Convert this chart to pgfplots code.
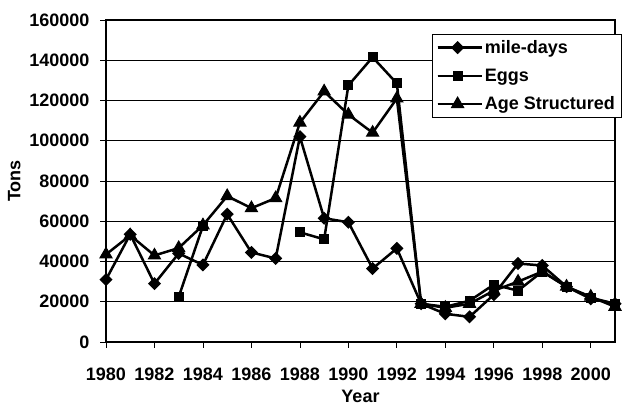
\documentclass[border=0pt]{standalone}
\usepackage{pgfplots}
\pgfplotsset{compat=1.18}
\usepackage{fontspec}
\setmainfont{Liberation Sans}
\begin{document}
\begin{tikzpicture}
\begin{axis}[
  at={(0pt,0pt)}, anchor=south west,
  scale only axis,
  width=509pt, height=322pt,
  xmin=1980, xmax=2001,
  ymin=0, ymax=160000,
  xtick={1980,1982,1984,1986,1988,1990,1992,1994,1996,1998,2000},
  xticklabels={1980,1982,1984,1986,1988,1990,1992,1994,1996,1998,2000},
  ytick={0,20000,40000,60000,80000,100000,120000,140000,160000},
  yticklabels={0,20000,40000,60000,80000,100000,120000,140000,160000},
  tick align=outside,
  xtick pos=bottom, ytick pos=left,
  major tick length=6pt,
  ymajorgrids,
  grid style={black, line width=0.7pt},
  axis line style={line width=1.3pt},
  tick style={black, line width=0.8pt},
  scaled y ticks=false,
  ticklabel style={font=\fontsize{18}{20}\selectfont\bfseries},
  yticklabel style={xshift=-7pt},
  xticklabel style={yshift=-16pt},
  xlabel={Year}, ylabel={Tons},
  label style={font=\fontsize{18}{20}\selectfont\bfseries},
  xlabel style={yshift=-3pt},
  ylabel style={yshift=2pt},
  legend style={at={(rel axis cs:0.6405,0.9565)}, anchor=north west, draw=black, line width=0.7pt,
    font=\fontsize{18}{20}\selectfont\bfseries, row sep=10pt, inner xsep=4pt, inner ysep=4pt,
    nodes={inner xsep=2pt}},
  legend cell align=left,
  legend image code/.code={\path (0pt,0pt) -- (44pt,0pt); \draw[mark repeat=2,mark phase=2, line width=2.5pt] plot coordinates {(0pt,0pt) (20pt,0pt) (40pt,0pt)};},
  every axis plot/.append style={black, line width=2.5pt, mark options={solid, fill=black, line width=1pt}},
]
\addplot[mark=square*, mark size=3.4pt, mark options={rotate=45}] coordinates {
(1980,31000) (1981,53500) (1982,29000) (1983,44000) (1984,38300) (1985,63500)
(1986,44500) (1987,41500) (1988,102000) (1989,61500) (1990,59500) (1991,36500)
(1992,46500) (1993,19000) (1994,14000) (1995,12500) (1996,23500) (1997,39000)
(1998,38000) (1999,27500) (2000,21500) (2001,19000)};
\addlegendentry{mile-days}
\addplot[mark=square*, mark size=4.5pt] coordinates {
(1983,22400) (1984,57700)};
\addlegendentry{Eggs}
\addplot[mark=triangle*, mark size=7pt] coordinates {
(1980,43500) (1981,53000) (1982,43000) (1983,46700) (1984,58000) (1985,72500)
(1986,66500) (1987,71500) (1988,109000) (1989,124500) (1990,113000) (1991,104000)
(1992,121000) (1993,19000) (1994,17000) (1995,19000) (1996,25500) (1997,30000)
(1998,35000) (1999,27500) (2000,22500) (2001,17500)};
\addlegendentry{Age Structured}
\addplot[mark=square*, mark size=4.5pt, forget plot] coordinates {
(1988,54500) (1989,51000) (1990,127500) (1991,141500) (1992,128500) (1993,19000)
(1994,17500) (1995,20500) (1996,28500) (1997,25500) (1998,35000) (1999,27500)
(2000,22000) (2001,19000)};
\end{axis}
\path (-106pt,-58pt) rectangle (516pt,342pt);
\end{tikzpicture}
\end{document}
